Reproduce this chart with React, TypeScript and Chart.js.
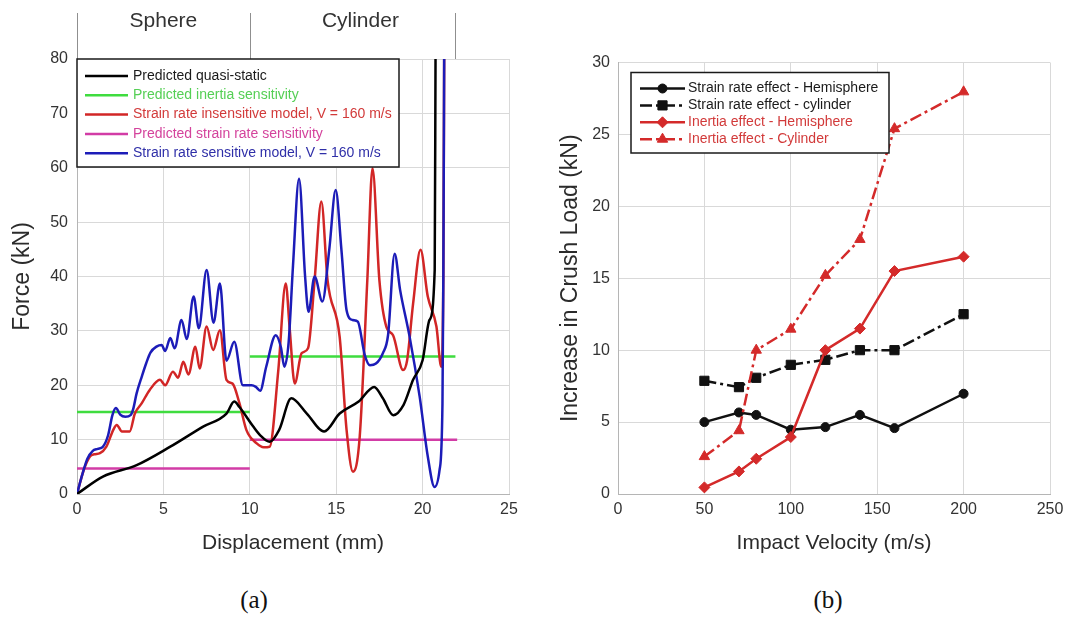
import React, { useEffect, useRef } from 'react';
import { Chart, registerables } from 'chart.js';

Chart.register(...registerables);

const FONT = '"Liberation Sans", Arial, Helvetica, sans-serif';
const SERIF = '"Liberation Serif", "Times New Roman", serif';
const TICK_COLOR = '#333333';
const GRID_COLOR = '#d9d9d9';

// ---------- (a) Force vs displacement ----------
const dispTicks = [0, 5, 10, 15, 20, 25];
const forceTicks = [0, 10, 20, 30, 40, 50, 60, 70, 80];

const quasiStaticX = [0, 1.5, 3.45, 5.4, 7.3, 8.65, 9.1, 9.4, 10.2, 10.6, 11.15, 11.7, 12.4, 13.3, 14.3, 15.2, 16.3, 17.2, 17.7, 18.3, 18.9, 19.45, 20.0, 20.4, 20.7, 20.75];
const quasiStaticY = [0, 3.2, 5.3, 8.7, 12.4, 14.8, 17.0, 16.0, 12.4, 10.8, 9.6, 11.8, 17.6, 14.8, 11.5, 14.8, 17.0, 19.7, 17.6, 14.5, 16.4, 21.0, 24.6, 32.0, 41.2, 82];

const insensitiveX = [0, 0.4, 0.75, 1.0, 1.33, 1.7, 2.1, 2.3, 2.6, 3.05, 3.35, 3.75, 4.2, 4.8, 5.1, 5.55, 5.85, 6.15, 6.45, 6.85, 7.1, 7.5, 7.88, 8.27, 8.65, 9.0, 9.4, 9.8, 10.4, 10.8, 11.15, 11.65, 12.08, 12.3, 12.6, 13.0, 13.37, 13.75, 14.14, 14.5, 15.2, 15.6, 15.97, 16.36, 16.8, 17.1, 17.5, 17.9, 18.29, 18.87, 19.1, 19.45, 19.88, 20.3, 20.8, 21.08, 21.2, 21.25];
const insensitiveY = [0, 4.5, 6.9, 7.3, 7.5, 8.7, 11.8, 12.7, 11.5, 11.5, 14.8, 16.7, 19.1, 21.0, 20.0, 22.5, 21.4, 24.3, 22.0, 27.1, 23.1, 30.8, 26.5, 30.1, 21.0, 20.3, 16.7, 11.8, 9.3, 8.6, 8.7, 22.8, 38.7, 30.8, 20.3, 25.9, 26.8, 39.3, 53.8, 39.3, 28.9, 11.8, 4.1, 10.5, 39.3, 59.9, 39.3, 30.8, 29.2, 22.8, 24.5, 35.0, 44.9, 36.3, 30.8, 23.4, 40, 82];

const sensitiveX = [0, 0.3, 0.6, 0.9, 1.2, 1.5, 1.8, 2.05, 2.25, 2.5, 2.8, 3.1, 3.25, 3.45, 3.75, 4.0, 4.25, 4.6, 4.9, 5.1, 5.4, 5.65, 6.05, 6.35, 6.75, 7.05, 7.5, 7.9, 8.27, 8.65, 9.1, 9.6, 10.1, 10.35, 10.6, 10.95, 11.5, 11.8, 12.0, 12.25, 12.5, 12.85, 13.2, 13.4, 13.75, 14.2, 14.6, 14.97, 15.3, 15.6, 15.95, 16.25, 16.65, 16.95, 17.3, 17.7, 18.0, 18.38, 18.7, 19.25, 19.83, 20.3, 20.69, 20.98, 21.15, 21.2, 21.25];
const sensitiveY = [0, 3.5, 6.5, 7.9, 8.3, 8.7, 10.8, 14.5, 15.8, 14.6, 14.2, 14.5, 15.6, 18.5, 21.6, 24.0, 26.0, 27.1, 27.4, 26.3, 28.7, 26.8, 32.0, 28.5, 36.3, 30.5, 41.2, 31.5, 38.7, 24.5, 28.0, 20.0, 20.0, 19.7, 19.0, 23.4, 29.2, 27.0, 23.4, 28.0, 42.0, 58.0, 40.0, 33.5, 40.0, 35.4, 45.0, 55.9, 45.0, 33.8, 32.0, 31.7, 25.6, 23.7, 24.0, 25.9, 29.2, 44.2, 37.5, 28.9, 17.9, 6.9, 1.3, 4.4, 16.7, 40, 82];

// Two-stage reference levels (sphere stage, then cylinder stage)
const inertiaLevelX = [0, 10, 10, 10, 21.9];
const inertiaLevelY = [15.1, 15.1, null, 25.3, 25.3];
const strainLevelX = [0, 10, 10, 10, 22];
const strainLevelY = [4.7, 4.7, null, 10, 10];

const stageLabels = ['Sphere', 'Cylinder'];
const stageBounds = [0, 10, 21.9];
const stageLabelAt = [5, 16.4];

// ---------- (b) Crush load increase vs impact velocity ----------
const velocityTicks = [0, 50, 100, 150, 200, 250];
const loadTicks = [0, 5, 10, 15, 20, 25, 30];
const velocities = [50, 70, 80, 100, 120, 140, 160, 200];
const strainHemisphere = [5.0, 5.67, 5.5, 4.47, 4.65, 5.5, 4.58, 6.97];
const strainCylinder = [7.87, 7.43, 8.08, 8.98, 9.33, 10.0, 10.0, 12.5];
const inertiaHemisphere = [0.46, 1.57, 2.45, 3.96, 10.0, 11.5, 15.5, 16.5];
const inertiaCylinder = [2.6, 4.4, 10.0, 11.46, 15.2, 17.7, 25.4, 27.96];

const RED = '#d42a2a';
const DASH_DOT = [12, 4, 3, 4];

const pts = (xs: number[], ys: (number | null)[]) => xs.map((x, i) => ({ x, y: ys[i] }));

function glyph(ctx: CanvasRenderingContext2D, style: string, x: number, y: number, r: number) {
  ctx.beginPath();
  if (style === 'circle') {
    ctx.arc(x, y, r, 0, Math.PI * 2);
  } else if (style === 'rect') {
    const s = r * Math.SQRT1_2;
    ctx.rect(x - s, y - s, 2 * s, 2 * s);
  } else if (style === 'rectRot') {
    ctx.moveTo(x, y - r);
    ctx.lineTo(x + r, y);
    ctx.lineTo(x, y + r);
    ctx.lineTo(x - r, y);
    ctx.closePath();
  } else if (style === 'triangle') {
    let a = 0;
    ctx.moveTo(x + Math.sin(a) * r, y - Math.cos(a) * r);
    a += (2 * Math.PI) / 3;
    ctx.lineTo(x + Math.sin(a) * r, y - Math.cos(a) * r);
    a += (2 * Math.PI) / 3;
    ctx.lineTo(x + Math.sin(a) * r, y - Math.cos(a) * r);
    ctx.closePath();
  }
  ctx.fill();
  ctx.stroke();
}

// Boxed legend drawn inside the plot area, offset from its top-left corner
const boxedLegend = {
  id: 'boxedLegend',
  afterDraw(chart: any, _args: any, o: any) {
    const { ctx, chartArea } = chart;
    const bx = chartArea.left + o.x;
    const by = chartArea.top + o.y;
    ctx.save();
    ctx.fillStyle = '#ffffff';
    ctx.fillRect(bx, by, o.width, o.height);
    ctx.strokeStyle = '#1a1a1a';
    ctx.lineWidth = 1.5;
    ctx.strokeRect(bx, by, o.width, o.height);
    ctx.font = `${o.fontSize}px ${FONT}`;
    ctx.textBaseline = 'middle';
    ctx.textAlign = 'left';
    chart.data.datasets.forEach((ds: any, i: number) => {
      const yy = by + o.firstRow + i * o.rowGap;
      const x0 = bx + o.lineStart;
      const x1 = bx + o.lineEnd;
      ctx.strokeStyle = ds.borderColor;
      ctx.lineWidth = ds.borderWidth || 2;
      ctx.setLineDash(ds.borderDash || []);
      ctx.beginPath();
      ctx.moveTo(x0, yy);
      ctx.lineTo(x1, yy);
      ctx.stroke();
      ctx.setLineDash([]);
      if (ds.pointStyle && ds.pointRadius) {
        ctx.fillStyle = ds.borderColor;
        ctx.lineWidth = 1;
        glyph(ctx, ds.pointStyle, (x0 + x1) / 2, yy, ds.pointRadius);
      }
      ctx.fillStyle = o.textColors[i];
      ctx.fillText(ds.label, x1 + o.textGap, yy);
    });
    ctx.restore();
  },
};

// Stage header above the force plot
const stageHeader = {
  id: 'stageHeader',
  afterDraw(chart: any) {
    const { ctx, chartArea, scales } = chart;
    ctx.save();
    ctx.strokeStyle = '#8f8f8f';
    ctx.lineWidth = 1;
    stageBounds.forEach((b) => {
      const px = Math.round(scales.x.getPixelForValue(b)) + 0.5;
      ctx.beginPath();
      ctx.moveTo(px, 13);
      ctx.lineTo(px, chartArea.top);
      ctx.stroke();
    });
    ctx.font = `21px ${FONT}`;
    ctx.fillStyle = '#333333';
    ctx.textAlign = 'center';
    ctx.textBaseline = 'middle';
    stageLabels.forEach((t, i) => ctx.fillText(t, scales.x.getPixelForValue(stageLabelAt[i]), 21));
    ctx.restore();
  },
};

const tickFont = { family: FONT, size: 16 };

function axis(min: number, max: number, ticks: number[], title: string, horizontal: boolean, fixed: number, titleSize: number, titlePad: any, tickPad: number) {
  return {
    type: 'linear',
    min,
    max,
    afterBuildTicks: (s: any) => {
      s.ticks = ticks.map((v) => ({ value: v }));
    },
    ticks: { color: TICK_COLOR, font: tickFont, padding: tickPad, maxRotation: 0, autoSkip: false },
    grid: { color: GRID_COLOR, lineWidth: 1, drawTicks: false },
    border: { color: '#b5b5b5', width: 1 },
    title: { display: true, text: title, color: '#2b2b2b', font: { family: FONT, size: titleSize }, padding: titlePad },
    afterFit: (s: any) => {
      if (horizontal) s.height = fixed;
      else s.width = fixed;
      s.paddingLeft = 0;
      s.paddingRight = 0;
      s.paddingTop = 0;
      s.paddingBottom = 0;
    },
  };
}

export default function App() {
  const leftRef = useRef<HTMLCanvasElement>(null);
  const rightRef = useRef<HTMLCanvasElement>(null);

  useEffect(() => {
    const curve = { pointRadius: 0, borderWidth: 2.5, cubicInterpolationMode: 'monotone', fill: false };
    const level = { pointRadius: 0, borderWidth: 2.5, tension: 0, fill: false, spanGaps: false };

    const left = new Chart(leftRef.current as HTMLCanvasElement, {
      type: 'line',
      data: {
        datasets: [
          { ...curve, label: 'Predicted quasi-static', data: pts(quasiStaticX, quasiStaticY), borderColor: '#000000', order: 0 },
          { ...level, label: 'Predicted inertia sensitivity', data: pts(inertiaLevelX, inertiaLevelY), borderColor: '#3fdc3f', order: 4 },
          { ...curve, label: 'Strain rate insensitive model, V = 160 m/s', data: pts(insensitiveX, insensitiveY), borderColor: '#d22626', order: 2 },
          { ...level, label: 'Predicted strain rate sensitivity', data: pts(strainLevelX, strainLevelY), borderColor: '#d23ca6', order: 3 },
          { ...curve, label: 'Strain rate sensitive model, V = 160 m/s', data: pts(sensitiveX, sensitiveY), borderColor: '#1c1cb8', order: 1 },
        ],
      } as any,
      options: {
        responsive: false,
        maintainAspectRatio: false,
        animation: false,
        layout: { padding: { left: 0, top: 59, right: 31, bottom: 0 } },
        scales: {
          x: axis(0, 25, dispTicks, 'Displacement (mm)', true, 76, 21, { top: 0, bottom: 14 }, 6),
          y: axis(0, 80, forceTicks, 'Force (kN)', false, 77, 23, { top: 9, bottom: 0 }, 9),
        } as any,
        plugins: {
          legend: { display: false },
          tooltip: { enabled: false },
          boxedLegend: {
            x: 0, y: 0, width: 322, height: 108, firstRow: 17, rowGap: 19.3,
            lineStart: 8, lineEnd: 51, textGap: 5, fontSize: 14,
            textColors: ['#1a1a1a', '#55cf55', '#d23a3a', '#d4439c', '#2f2fa8'],
          },
        } as any,
      },
      plugins: [stageHeader, boxedLegend],
    });

    const marker = { borderWidth: 2.5, tension: 0, fill: false, pointBorderWidth: 1 };
    const right = new Chart(rightRef.current as HTMLCanvasElement, {
      type: 'line',
      data: {
        datasets: [
          { ...marker, label: 'Strain rate effect - Hemisphere', data: pts(velocities, strainHemisphere), borderColor: '#111111', backgroundColor: '#111111', pointBackgroundColor: '#111111', pointStyle: 'circle', pointRadius: 4.5, order: 3 },
          { ...marker, label: 'Strain rate effect - cylinder', data: pts(velocities, strainCylinder), borderColor: '#111111', backgroundColor: '#111111', pointBackgroundColor: '#111111', borderDash: DASH_DOT, pointStyle: 'rect', pointRadius: 6.5, order: 2 },
          { ...marker, label: 'Inertia effect - Hemisphere', data: pts(velocities, inertiaHemisphere), borderColor: RED, backgroundColor: RED, pointBackgroundColor: RED, pointStyle: 'rectRot', pointRadius: 5.5, order: 1 },
          { ...marker, label: 'Inertia effect - Cylinder', data: pts(velocities, inertiaCylinder), borderColor: RED, backgroundColor: RED, pointBackgroundColor: RED, borderDash: DASH_DOT, pointStyle: 'triangle', pointRadius: 6, order: 0 },
        ],
      } as any,
      options: {
        responsive: false,
        maintainAspectRatio: false,
        animation: false,
        layout: { padding: { left: 0, top: 62.5, right: 22, bottom: 0 } },
        scales: {
          x: axis(0, 250, velocityTicks, 'Impact Velocity (m/s)', true, 76, 21, { top: 0, bottom: 14 }, 6),
          y: axis(0, 30, loadTicks, 'Increase in Crush Load (kN)', false, 73, 23, { top: 12, bottom: 0 }, 8),
        } as any,
        plugins: {
          legend: { display: false },
          tooltip: { enabled: false },
          boxedLegend: {
            x: 13, y: 10, width: 258, height: 80.5, firstRow: 16, rowGap: 16.9,
            lineStart: 9, lineEnd: 54, textGap: 3, fontSize: 14,
            textColors: ['#1a1a1a', '#1a1a1a', '#d23a3a', '#d23a3a'],
          },
        } as any,
      },
      plugins: [boxedLegend],
    });

    return () => {
      left.destroy();
      right.destroy();
    };
  }, []);

  const caption: React.CSSProperties = {
    position: 'absolute',
    top: 586,
    width: 60,
    textAlign: 'center',
    fontFamily: SERIF,
    fontSize: 25,
    lineHeight: '28px',
    color: '#111',
  };

  return (
    <div style={{ position: 'absolute', left: 0, top: 0, width: 1072, height: 617, background: '#ffffff', overflow: 'hidden' }}>
      <canvas ref={leftRef} width={540} height={570} style={{ position: 'absolute', left: 0, top: 0, width: 540, height: 570 }} />
      <canvas ref={rightRef} width={527} height={570} style={{ position: 'absolute', left: 545, top: 0, width: 527, height: 570 }} />
      <div style={{ ...caption, left: 224 }}>(a)</div>
      <div style={{ ...caption, left: 798 }}>(b)</div>
    </div>
  );
}
